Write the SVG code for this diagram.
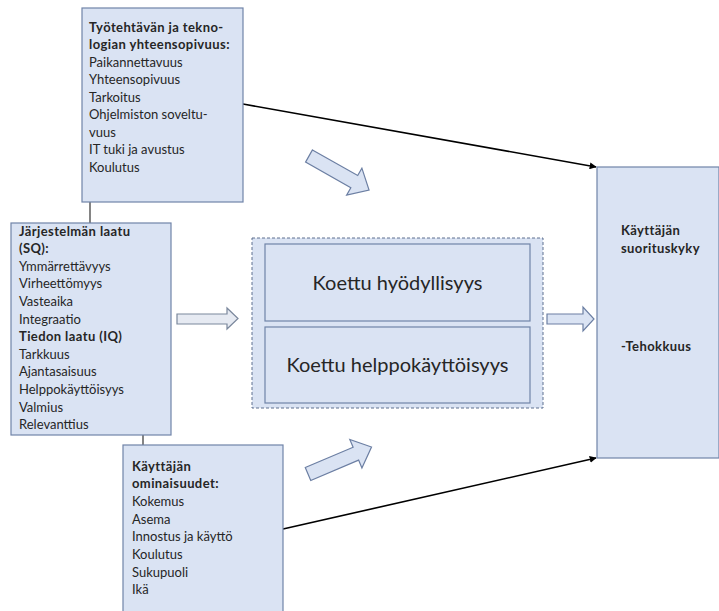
<svg xmlns="http://www.w3.org/2000/svg" width="719" height="611" viewBox="0 0 719 611">
<defs>
<style>
.box{fill:#dae3f3;stroke:#7084a8;stroke-width:1.2}
.t{font-family:Lato,"Open Sans","Liberation Sans",sans-serif;font-size:13px;fill:#262626}
.b{font-weight:bold;letter-spacing:0.4px}
.big{font-family:Lato,"Open Sans","Liberation Sans",sans-serif;font-size:20px;fill:#262626;text-anchor:middle}
.line{stroke:#000;stroke-width:1.6;fill:none}
.thin{stroke:#333;stroke-width:1.2;fill:none}
.blk{fill:#dae3f3;stroke:#6c7fa3;stroke-width:1.2}
.blk2{fill:#e6eaf2;stroke:#7a879c;stroke-width:1.2}
</style>
<marker id="ah" viewBox="0 0 10 10" refX="9" refY="5" markerWidth="7" markerHeight="7" markerUnits="userSpaceOnUse" orient="auto">
<path d="M0,0 L10,5 L0,10 z" fill="#000"/>
</marker>
<path id="diag" d="M0,-7 L52,-7 L52,-15.5 L69,0 L52,15.5 L52,7 L0,7 Z"/>
</defs>

<g id="connectors">
<line class="thin" x1="90" y1="202" x2="90" y2="223"/>
<line class="thin" x1="143" y1="435" x2="143" y2="445"/>
<line class="line" x1="243" y1="104" x2="596" y2="167" marker-end="url(#ah)"/>
<line class="line" x1="283" y1="529" x2="596" y2="458" marker-end="url(#ah)"/>
<use href="#diag" class="blk" transform="translate(309,156) rotate(29.5)"/>
<use href="#diag" class="blk" transform="translate(308,474) rotate(-23)"/>
<path class="blk2" d="M177,314 L227,314 L227,308 L238,318.5 L227,329 L227,324 L177,324 Z"/>
<path class="blk" d="M547,314 L583,314 L583,307 L594,319 L583,331 L583,324 L547,324 Z"/>
</g>

<g id="task-tech-fit">
<rect class="box" x="82" y="8" width="161" height="194"/>
<text class="t b" x="89" y="31.5">Työtehtävän ja tekno-</text>
<text class="t b" x="89" y="49">logian yhteensopivuus:</text>
<text class="t" x="89" y="66.5">Paikannettavuus</text>
<text class="t" x="89" y="84">Yhteensopivuus</text>
<text class="t" x="89" y="101.5">Tarkoitus</text>
<text class="t" x="89" y="119">Ohjelmiston soveltu-</text>
<text class="t" x="89" y="136.5">vuus</text>
<text class="t" x="89" y="154">IT tuki  ja avustus</text>
<text class="t" x="89" y="171.5">Koulutus</text>
</g>

<g id="system-quality">
<rect class="box" x="11" y="223" width="160" height="212"/>
<text class="t b" x="19" y="235.5">Järjestelmän laatu</text>
<text class="t b" x="19" y="253.1">(SQ):</text>
<text class="t" x="19" y="270.7">Ymmärrettävyys</text>
<text class="t" x="19" y="288.3">Virheettömyys</text>
<text class="t" x="19" y="305.9">Vasteaika</text>
<text class="t" x="19" y="323.5">Integraatio</text>
<text class="t b" x="19" y="341.1">Tiedon laatu (IQ)</text>
<text class="t" x="19" y="358.7">Tarkkuus</text>
<text class="t" x="19" y="376.3">Ajantasaisuus</text>
<text class="t" x="19" y="393.9">Helppokäyttöisyys</text>
<text class="t" x="19" y="411.5">Valmius</text>
<text class="t" x="19" y="429.1">Relevanttius</text>
</g>

<g id="user-characteristics">
<rect class="box" x="123" y="445" width="160" height="175"/>
<text class="t b" x="132" y="470.5">Käyttäjän</text>
<text class="t b" x="132" y="488.2">ominaisuudet:</text>
<text class="t" x="132" y="505.9">Kokemus</text>
<text class="t" x="132" y="523.6">Asema</text>
<text class="t" x="132" y="541.3">Innostus ja käyttö</text>
<text class="t" x="132" y="559">Koulutus</text>
<text class="t" x="132" y="576.7">Sukupuoli</text>
<text class="t" x="132" y="594.4">Ikä</text>
</g>

<g id="perceived">
<rect x="252" y="238" width="291" height="170" fill="#dae3f3" stroke="#5f7090" stroke-width="1" stroke-dasharray="3,2"/>
<g id="usefulness">
<rect class="box" x="265" y="244" width="265" height="77"/>
<text class="big" x="397.5" y="289.5">Koettu hyödyllisyys</text>
</g>
<g id="ease-of-use">
<rect class="box" x="265" y="327" width="265" height="76"/>
<text class="big" x="397.5" y="372">Koettu helppokäyttöisyys</text>
</g>
</g>

<g id="performance">
<rect class="box" x="597" y="167" width="122" height="291"/>
<text class="t b" x="621" y="234.5">Käyttäjän</text>
<text class="t b" x="621" y="253">suorituskyky</text>
<text class="t b" x="621" y="351">-Tehokkuus</text>
</g>
</svg>
